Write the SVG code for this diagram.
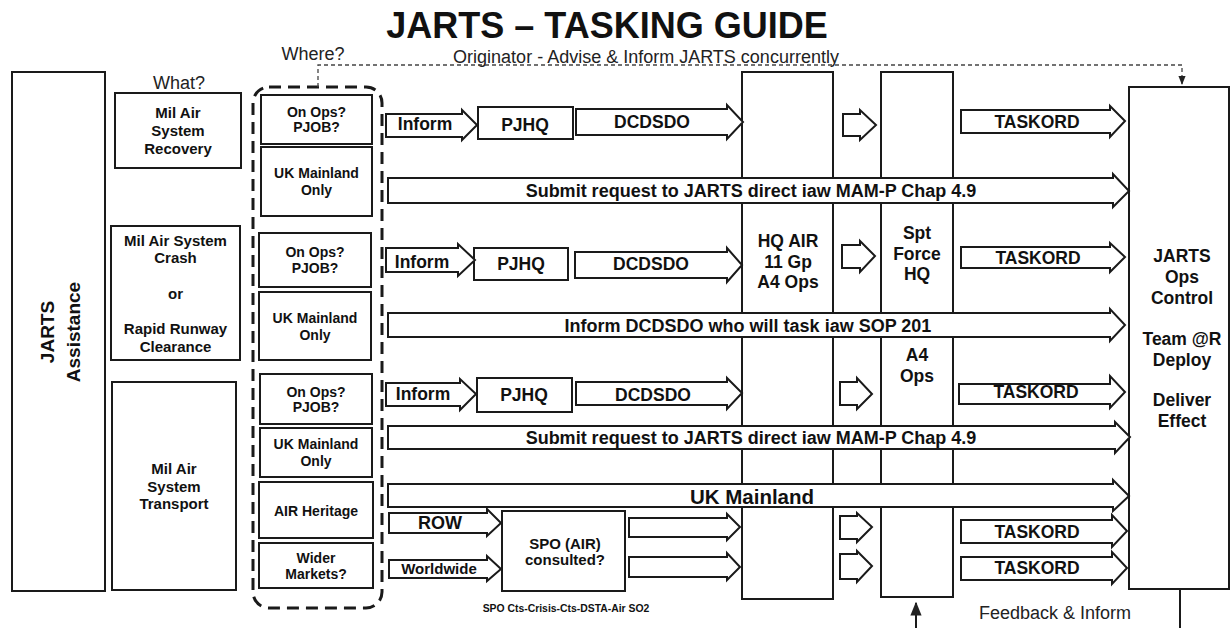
<svg xmlns="http://www.w3.org/2000/svg" width="1231" height="628" viewBox="0 0 1231 628">
<defs>
<style>
.b{fill:#fff;stroke:#1a1a1a;stroke-width:2}
.t{font-family:"Liberation Sans",Arial,sans-serif;font-weight:bold;fill:#111;text-anchor:middle}
.r{font-family:"Liberation Sans",Arial,sans-serif;fill:#222;text-anchor:middle;font-size:18px}
.s14{font-size:14px}.s15{font-size:15px}.s17{font-size:17.5px}.s18{font-size:18px}
.dot{fill:none;stroke:#444;stroke-width:1.3;stroke-dasharray:4 3}
.fb{fill:none;stroke:#1a1a1a;stroke-width:2}
</style>
<marker id="ah" viewBox="0 0 10 10" refX="9" refY="5" markerWidth="7" markerHeight="7" orient="auto"><path d="M0,1 L10,5 L0,9 z" fill="#222"/></marker>
</defs>
<rect width="1231" height="628" fill="#fff"/>
<text class="t" x="607" y="38" font-size="36">JARTS – TASKING GUIDE</text>
<text class="r" x="313" y="60">Where?</text>
<text class="r" x="179" y="89">What?</text>
<text class="r" x="646" y="63">Originator - Advise &amp; Inform JARTS concurrently</text>
<text class="r" x="1055" y="619">Feedback &amp; Inform</text>
<text class="t" x="566" y="612" font-size="10.4px">SPO Cts-Crisis-Cts-DSTA-Air SO2</text>

<g id="jarts-assistance"><rect class="b" x="12" y="72" width="93" height="519"/>
<text class="t" font-size="19px" transform="translate(54,332) rotate(-90)">JARTS</text>
<text class="t" font-size="19px" transform="translate(80,332) rotate(-90)">Assistance</text></g>

<g id="what-recovery"><rect class="b" x="115" y="93" width="126" height="75"/>
<text class="t s15" x="178" y="118">Mil Air</text><text class="t s15" x="178" y="136">System</text><text class="t s15" x="178" y="154">Recovery</text></g>
<g id="what-crash"><rect class="b" x="111" y="226" width="129" height="134"/>
<text class="t s15" x="175.5" y="246">Mil Air System</text><text class="t s15" x="175.5" y="263">Crash</text><text class="t s15" x="175.5" y="299">or</text><text class="t s15" x="175.5" y="334">Rapid Runway</text><text class="t s15" x="175.5" y="352">Clearance</text></g>
<g id="what-transport"><rect class="b" x="112" y="382" width="124" height="208"/>
<text class="t s15" x="174" y="474">Mil Air</text><text class="t s15" x="174" y="492">System</text><text class="t s15" x="174" y="509">Transport</text></g>

<g id="where-group"><rect x="253" y="87" width="129" height="521" rx="16" fill="none" stroke="#1a1a1a" stroke-width="3" stroke-dasharray="12 7"/></g>
<g id="where-onops1"><rect class="b" x="261" y="95" width="111" height="49"/><text class="t s14" x="316.5" y="117">On Ops?</text><text class="t s14" x="316.5" y="132">PJOB?</text></g>
<g id="where-uk1"><rect class="b" x="261" y="147" width="111" height="69"/><text class="t s14" x="316.5" y="178">UK Mainland</text><text class="t s14" x="316.5" y="195">Only</text></g>
<g id="where-onops2"><rect class="b" x="259" y="233" width="112" height="54"/><text class="t s14" x="315" y="257">On Ops?</text><text class="t s14" x="315" y="273">PJOB?</text></g>
<g id="where-uk2"><rect class="b" x="259" y="292" width="112" height="68"/><text class="t s14" x="315" y="323">UK Mainland</text><text class="t s14" x="315" y="340">Only</text></g>
<g id="where-onops3"><rect class="b" x="260" y="374" width="112" height="50"/><text class="t s14" x="316" y="397">On Ops?</text><text class="t s14" x="316" y="412">PJOB?</text></g>
<g id="where-uk3"><rect class="b" x="260" y="428" width="112" height="49"/><text class="t s14" x="316" y="449">UK Mainland</text><text class="t s14" x="316" y="466">Only</text></g>
<g id="where-heritage"><rect class="b" x="259" y="482" width="114" height="56"/><text class="t s14" x="316" y="516">AIR Heritage</text></g>
<g id="where-wider"><rect class="b" x="259" y="543" width="114" height="45"/><text class="t s14" x="316" y="563">Wider</text><text class="t s14" x="316" y="579">Markets?</text></g>

<g id="hq-air"><rect class="b" x="742" y="72" width="91" height="527"/>
<text class="t s17" x="788" y="247">HQ AIR</text><text class="t s17" x="788" y="268">11 Gp</text><text class="t s17" x="788" y="288">A4 Ops</text></g>
<g id="spt-force"><rect class="b" x="881" y="72" width="72" height="525"/>
<text class="t s17" x="917" y="239">Spt</text><text class="t s17" x="917" y="260">Force</text><text class="t s17" x="917" y="280">HQ</text>
<text class="t s17" x="917" y="361">A4</text><text class="t s17" x="917" y="382">Ops</text></g>
<g id="jarts-ops"><rect class="b" x="1129" y="87" width="100" height="502"/>
<text class="t s17" x="1182" y="262">JARTS</text><text class="t s17" x="1182" y="283">Ops</text><text class="t s17" x="1182" y="304">Control</text>
<text class="t s17" x="1182" y="345">Team @R</text><text class="t s17" x="1182" y="366">Deploy</text>
<text class="t s17" x="1182" y="406">Deliver</text><text class="t s17" x="1182" y="427">Effect</text></g>

<g id="pjhq1"><rect class="b" x="478" y="107" width="95" height="32"/><text class="t s17" x="525" y="131">PJHQ</text></g>
<g id="pjhq2"><rect class="b" x="474" y="248" width="94" height="32"/><text class="t s17" x="521" y="270">PJHQ</text></g>
<g id="pjhq3"><rect class="b" x="477" y="378" width="95" height="34"/><text class="t s17" x="524" y="401">PJHQ</text></g>
<g id="spo"><rect class="b" x="502" y="511" width="123" height="80"/><text class="t s15" x="565" y="548.5">SPO (AIR)</text><text class="t s15" x="565" y="564.5">consulted?</text></g>

<g id="connectors">
<path class="dot" d="M318,87 V65 H1182 V84" marker-end="url(#ah)"/>
<path class="fb" d="M1180,589 V632 H916 V603" marker-end="url(#ah)"/>
<polygon class="b" points="386,114 462,114 462,110 477,125 462,140 462,137 386,137"/>
<polygon class="b" points="576,109 727,109 727,105 743,122 727,139 727,135 576,135"/>
<polygon class="b" points="843,114 860,114 860,110 876,125 860,140 860,136 843,136"/>
<polygon class="b" points="961,110 1110,110 1110,106 1125,121 1110,137 1110,133 961,133"/>
<polygon class="b" points="388,178 1113,178 1113,174 1129,191 1113,207 1113,203 388,203"/>
<polygon class="b" points="386,248 458,248 458,244 475,260 458,276 458,272 386,272"/>
<polygon class="b" points="575,252 727,252 727,248 742,265 727,282 727,278 575,278"/>
<polygon class="b" points="842,245 860,245 860,241 875,256 860,272 860,268 842,268"/>
<polygon class="b" points="961,247 1110,247 1110,243 1125,257 1110,272 1110,268 961,268"/>
<polygon class="b" points="388,313 1110,313 1110,309 1125,325 1110,341 1110,337 388,337"/>
<polygon class="b" points="386,383 460,383 460,379 476,394 460,410 460,406 386,406"/>
<polygon class="b" points="576,382 727,382 727,378 742,393 727,409 727,405 576,405"/>
<polygon class="b" points="840,382 857,382 857,378 872,394 857,409 857,405 840,405"/>
<polygon class="b" points="959,384 1110,384 1110,376 1125,392 1110,408 1110,404 959,404"/>
<polygon class="b" points="388,426 1115,426 1115,422 1130,437 1115,453 1115,449 388,449"/>
<polygon class="b" points="388,484 1113,484 1113,480 1129,496 1113,511 1113,507 388,507"/>
<polygon class="b" points="389,513 487,513 487,509 501,523 487,536 487,533 389,533"/>
<polygon class="b" points="389,560 487,560 487,556 501,569 487,581 487,578 389,578"/>
<polygon class="b" points="629,518 727,518 727,514 740,527 727,540 727,537 629,537"/>
<polygon class="b" points="629,557 727,557 727,553 740,567 727,580 727,577 629,577"/>
<polygon class="b" points="840,516 857,516 857,513 872,527 857,542 857,539 840,539"/>
<polygon class="b" points="840,554 857,554 857,551 872,566 857,582 857,579 840,579"/>
<polygon class="b" points="961,520 1112,520 1112,515 1127,531 1112,547 1112,543 961,543"/>
<polygon class="b" points="961,557 1112,557 1112,552 1127,568 1112,584 1112,580 961,580"/>
<text class="t s17" x="425" y="130">Inform</text>
<text class="t s17" x="652" y="128">DCDSDO</text>
<text class="t s17" x="1037" y="128">TASKORD</text>
<text class="t s18" x="751" y="197">Submit request to JARTS direct iaw MAM-P Chap 4.9</text>
<text class="t s17" x="422" y="268">Inform</text>
<text class="t s17" x="651" y="270">DCDSDO</text>
<text class="t s17" x="1038" y="264">TASKORD</text>
<text class="t s18" x="748" y="332">Inform DCDSDO who will task iaw SOP 201</text>
<text class="t s17" x="423" y="400">Inform</text>
<text class="t s17" x="653" y="401">DCDSDO</text>
<text class="t s17" x="1036" y="398">TASKORD</text>
<text class="t s18" x="751" y="444">Submit request to JARTS direct iaw MAM-P Chap 4.9</text>
<text class="t" font-size="20.5px" x="752" y="504">UK Mainland</text>
<text class="t s18" x="440" y="529">ROW</text>
<text class="t s15" x="439" y="574">Worldwide</text>
<text class="t s17" x="1037" y="538">TASKORD</text>
<text class="t s17" x="1037" y="574">TASKORD</text>
</g>
</svg>
